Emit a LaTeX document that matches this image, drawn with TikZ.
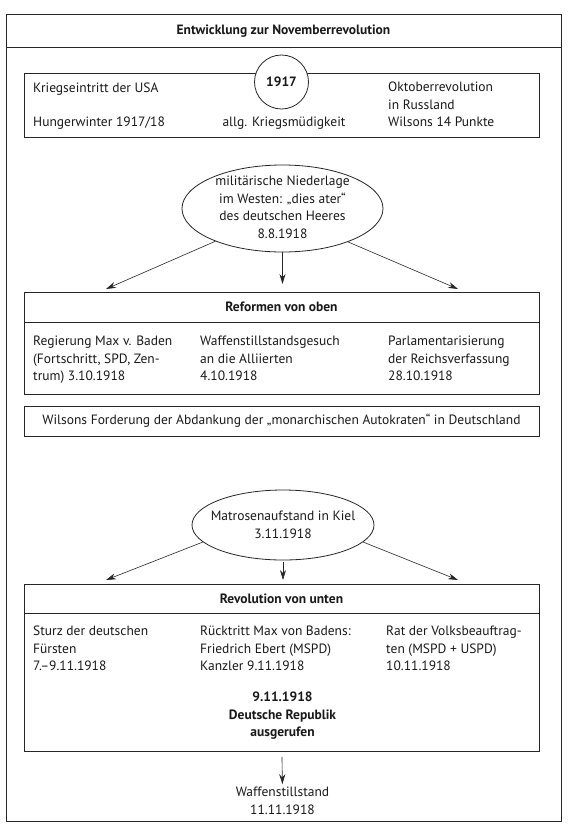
\documentclass[tikz,border=0pt]{standalone}
\usepackage{fontspec}
\setmainfont{PT Sans}
\usetikzlibrary{arrows.meta,shapes.geometric}
\begin{document}
\begin{tikzpicture}[x=1pt,y=-1pt,
  every node/.style={font=\fontsize{13.5}{17.5}\selectfont, text=black!90},
  frame/.style={draw=black!85, line width=0.9pt},
  lbl/.style={inner sep=0pt, anchor=west},
  col/.style={inner sep=0pt, anchor=north west, align=left},
  ctr/.style={inner sep=0pt, align=center},
  hdr/.style={inner sep=0pt, font=\fontsize{13.5}{17.5}\selectfont\bfseries},
  oval/.style={ellipse, draw=black!85, line width=0.8pt, inner sep=0pt},
  arr/.style={draw=black!85, line width=0.6pt, -{Stealth[length=10pt,width=6pt]}}]
\useasboundingbox (0,0) rectangle (570,831);
% outer frame
\node[frame, inner sep=0pt, minimum width=555pt, minimum height=807pt, anchor=north west] (outer) at (6,14) {};
\draw[frame] (6,47) -- (561,47);
\node[hdr] (title) at (283.5,31) {Entwicklung zur Novemberrevolution};

% box 1917
\node[frame, inner sep=0pt, minimum width=515pt, minimum height=64pt, anchor=north west] (box1) at (24,73) {};
\node[circle, draw=black!85, line width=0.8pt, fill=white, minimum size=54pt, inner sep=0pt, font=\fontsize{13.5}{17.5}\selectfont\bfseries] (y1917) at (281.5,82) {1917};
\node[lbl] (usa) at (33,89) {Kriegseintritt der USA};
\node[lbl] (hunger) at (33,123) {Hungerwinter 1917/18};
\node[ctr] (mued) at (284,123) {allg. Kriegsmüdigkeit};
\node[col] (okt) at (388,82) {Oktoberrevolution\\in Russland\\Wilsons 14 Punkte};

% ellipse 1
\node[oval, minimum width=201pt, minimum height=87pt] (mil) at (282.5,208.5) {};
\node[ctr] (miltxt) at (282.5,207.5) {militärische Niederlage\\im Westen: „dies ater“\\des deutschen Heeres\\8.8.1918};

% Reformen box
\node[frame, inner sep=0pt, minimum width=515pt, minimum height=102pt, anchor=north west] (box2) at (24,292) {};
\draw[frame] (24,322) -- (539,322);
\node[hdr] (ref) at (281.5,307) {Reformen von oben};
\node[col] (baden) at (33,336) {Regierung Max v. Baden\\(Fortschritt, SPD, Zen-\\trum) 3.10.1918};
\node[col] (gesuch) at (200,336) {Waffenstillstandsgesuch\\an die Alliierten\\4.10.1918};
\node[col] (parl) at (388,336) {Parlamentarisierung\\der Reichsverfassung\\28.10.1918};

\coordinate (t1l) at (106,289);
\coordinate (t1m) at (282.5,284);
\coordinate (t1r) at (458,289);
\draw[arr] (mil.206) -- (t1l);
\draw[arr] (mil.south) -- (t1m);
\draw[arr] (mil.-27) -- (t1r);

% Wilson box
\node[frame, inner sep=0pt, minimum width=515pt, minimum height=30pt, anchor=north west] (box3) at (24,406) {};
\node[ctr] (wilson) at (281.5,421) {Wilsons Forderung der Abdankung der „monarchischen Autokraten“ in Deutschland};

% ellipse 2
\node[oval, minimum width=182pt, minimum height=70pt] (kiel) at (283,525) {};
\node[ctr] (kieltxt) at (283,525) {Matrosenaufstand in Kiel\\3.11.1918};

% Revolution box
\node[frame, inner sep=0pt, minimum width=515pt, minimum height=167pt, anchor=north west] (box4) at (24,584) {};
\draw[frame] (24,613) -- (539,613);
\node[hdr] (rev) at (281.5,598.5) {Revolution von unten};
\node[col] (sturz) at (33,626) {Sturz der deutschen\\Fürsten\\7.–9.11.1918};
\node[col] (ruecktritt) at (200,626) {Rücktritt Max von Badens:\\Friedrich Ebert (MSPD)\\Kanzler 9.11.1918};
\node[col] (rat) at (386,626) {Rat der Volksbeauftrag-\\ten (MSPD + USPD)\\10.11.1918};
\node[ctr, font=\fontsize{13.5}{17.5}\selectfont\bfseries] (republik) at (282.5,716) {9.11.1918\\Deutsche Republik\\ausgerufen};

\coordinate (t2l) at (106,580);
\coordinate (t2m) at (283,580);
\coordinate (t2r) at (458,580);
\draw[arr] (kiel.192) -- (t2l);
\draw[arr] ([yshift=-2pt]kiel.south) -- (t2m);
\draw[arr] (kiel.-12) -- (t2r);

% final
\node[ctr] (waffen) at (282.5,801) {Waffenstillstand\\11.11.1918};
\draw[arr, shorten >=3pt] ([yshift=-5pt]box4.south) -- (waffen.north);
\end{tikzpicture}
\end{document}
